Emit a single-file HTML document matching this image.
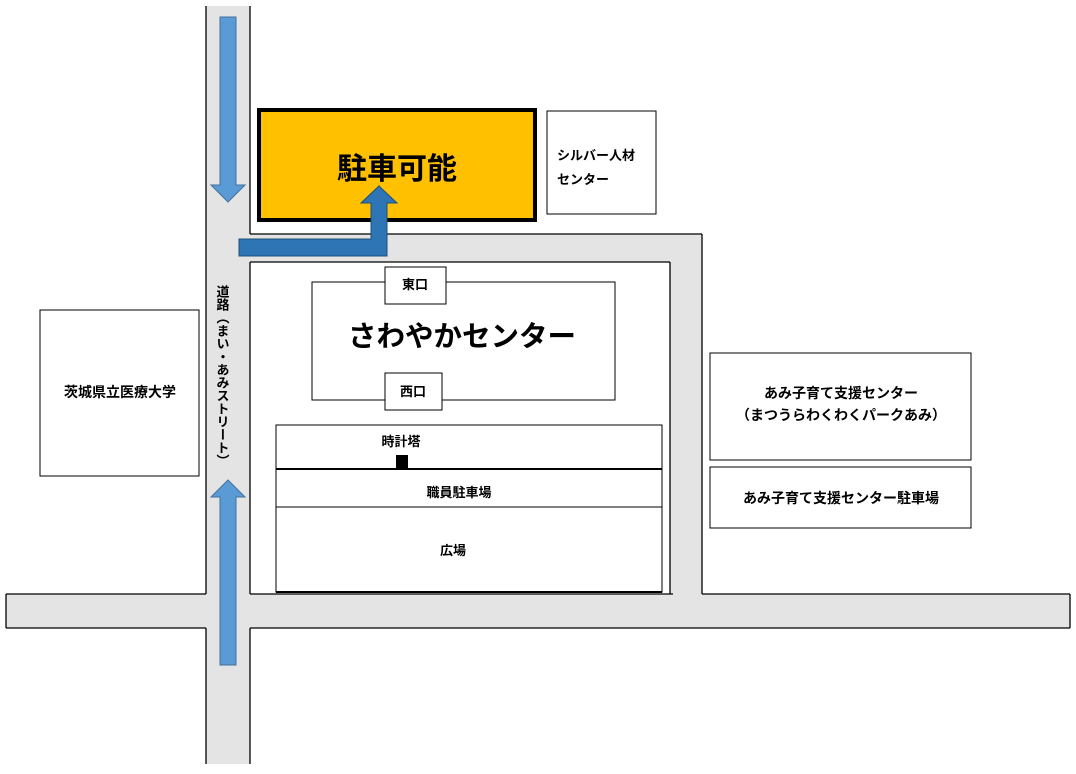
<!DOCTYPE html>
<html><head><meta charset="utf-8"><style>
body{margin:0;background:#fff;}
svg text{font-family:"Liberation Sans","Noto Sans CJK JP",sans-serif;font-weight:bold;fill:#000;}
</style></head><body>
<svg width="1076" height="769" viewBox="0 0 1076 769" xmlns="http://www.w3.org/2000/svg">
<g fill="#e4e4e4">
<rect x="206" y="6" width="44" height="758"/>
<rect x="6" y="594" width="1064" height="34"/>
<rect x="250" y="234" width="452" height="28"/>
<rect x="670" y="234" width="32" height="360"/>
</g>
<g stroke="#000" stroke-width="1.3" fill="none">
<line x1="206" y1="6" x2="206" y2="594"/>
<line x1="206" y1="628" x2="206" y2="764"/>
<line x1="250" y1="6" x2="250" y2="234"/>
<line x1="250" y1="262" x2="250" y2="594"/>
<line x1="250" y1="628" x2="250" y2="764"/>
<line x1="250" y1="234" x2="702" y2="234"/>
<line x1="250" y1="262" x2="670" y2="262"/>
<line x1="670" y1="262" x2="670" y2="594"/>
<line x1="702" y1="234" x2="702" y2="594"/>
<line x1="6" y1="594" x2="206" y2="594"/>
<line x1="250" y1="594" x2="673" y2="594"/>
<line x1="702" y1="594" x2="1070" y2="594"/>
<line x1="6" y1="628" x2="206" y2="628"/>
<line x1="250" y1="628" x2="1070" y2="628"/>
<line x1="6" y1="594" x2="6" y2="628"/>
<line x1="1070" y1="594" x2="1070" y2="628"/>
</g>
<polygon points="220,17 236,17 236,185 245,185 228,202 211,185 220,185" fill="#5b9bd5" stroke="#41719c" stroke-width="1"/>
<polygon points="228,480 245,497 236,497 236,665 220,665 220,497 211,497" fill="#5b9bd5" stroke="#41719c" stroke-width="1"/>
<rect x="259" y="110" width="276" height="110" fill="#ffc000" stroke="#000" stroke-width="4"/>
<text x="397" y="179" font-size="30" text-anchor="middle">駐車可能</text>
<polygon points="239,239 371,239 371,203 361,203 379,186 397,203 387,203 387,256 239,256" fill="#2e75b6" stroke="#1f4e79" stroke-width="1"/>
<g fill="#fff" stroke="#000" stroke-width="1">
<rect x="547" y="111" width="109" height="103"/>
<rect x="40" y="310" width="159" height="166"/>
<rect x="710" y="353" width="261" height="107"/>
<rect x="710" y="467" width="261" height="61"/>
<rect x="312" y="282" width="303" height="118"/>
<rect x="385" y="267" width="61" height="37"/>
<rect x="385" y="373" width="57" height="37"/>
<rect x="276" y="425" width="386" height="167"/>
</g>
<line x1="276" y1="469" x2="662" y2="469" stroke="#000" stroke-width="2"/>
<line x1="276" y1="507" x2="662" y2="507" stroke="#000" stroke-width="1"/>
<line x1="276" y1="592" x2="662" y2="592" stroke="#000" stroke-width="2"/>
<rect x="396" y="455" width="12" height="14" fill="#000"/>
<g font-size="13">
<text x="557" y="160">シルバー人材</text>
<text x="557" y="184">センター</text>
<text x="415" y="289" text-anchor="middle">東口</text>
<text x="413" y="396" text-anchor="middle">西口</text>
<text x="401" y="446" text-anchor="middle">時計塔</text>
<text x="459" y="497" text-anchor="middle">職員駐車場</text>
<text x="453" y="555" text-anchor="middle">広場</text>
</g>
<g font-size="14">
<text x="120" y="397" text-anchor="middle">茨城県立医療大学</text>
<text x="841" y="398" text-anchor="middle">あみ子育て支援センター</text>
<text x="841" y="420" text-anchor="middle">（まつうらわくわくパークあみ）</text>
<text x="841" y="503" text-anchor="middle">あみ子育て支援センター駐車場</text>
</g>
<text x="462" y="346" font-size="28.5" text-anchor="middle">さわやかセンター</text>
<text x="222" y="285" font-size="13" style="writing-mode:vertical-rl;glyph-orientation-vertical:0">道路（まい・あみストリート）</text>
</svg>
</body></html>
